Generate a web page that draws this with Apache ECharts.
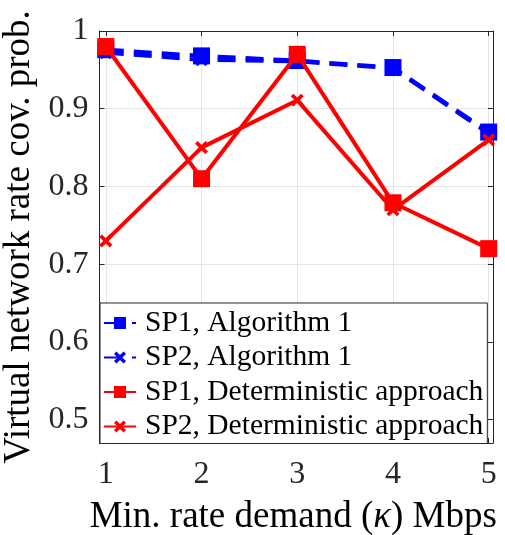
<!DOCTYPE html>
<html>
<head>
<meta charset="utf-8">
<script src="https://cdn.jsdelivr.net/npm/echarts@6/dist/echarts.min.js"></script>
<style>html,body{margin:0;padding:0;background:#fff;}#c{width:505px;height:535px;}</style>
</head>
<body>
<div id="c"></div>
<script>
const categories = [1, 2, 3, 4, 5];
const xTicks = [1, 2, 3, 4, 5];
const yTicks = [0.5, 0.6, 0.7, 0.8, 0.9, 1];
const sp1Alg = [0.976, 0.968, 0.962, 0.953, 0.870];
const sp2Alg = [0.972, 0.963, 0.961, 0.952, 0.868];
const sp1Det = [0.980, 0.810, 0.970, 0.779, 0.720];
const sp2Det = [0.730, 0.850, 0.911, 0.770, 0.860];
const seriesNames = ['SP1, Algorithm 1', 'SP2, Algorithm 1', 'SP1, Deterministic approach', 'SP2, Deterministic approach'];

const FONT = '"Liberation Serif", "Times New Roman", serif';
const AX = '#262626';
const cross = 'path://M0,2 L2,0 L5,3 L8,0 L10,2 L7,5 L10,8 L8,10 L5,7 L2,10 L0,8 L3,5 Z';
const pairs = v => categories.map((c, i) => [c, v[i]]);

const chart = echarts.init(document.getElementById('c'), null, {renderer: 'canvas'});
const xBase = {
  type: 'value', min: 0.934, max: 5.045,
  axisLine: {show: true, lineStyle: {color: AX, width: 1}},
  axisTick: {show: true, inside: true, length: 5, customValues: xTicks, lineStyle: {color: AX}},
  splitLine: {show: false}
};
const yBase = {
  type: 'value', min: 0.47, max: 1,
  axisLine: {show: true, lineStyle: {color: AX, width: 1}},
  axisTick: {show: true, inside: true, length: 5, customValues: yTicks, lineStyle: {color: AX}},
  splitLine: {show: false}
};
chart.setOption({
  animation: false,
  backgroundColor: '#fff',
  grid: {left: 99.5, right: 12, top: 31, bottom: 92, containLabel: false, outerBoundsMode: 'none'},
  xAxis: [
    Object.assign({}, xBase, {
      position: 'bottom',
      axisLabel: {show: true, customValues: xTicks, fontFamily: FONT, fontSize: 32, color: AX, margin: 16, formatter: v => String(v)},
      splitLine: {show: true, lineStyle: {color: '#e5e5e5', width: 1}},
      name: 'Min. rate demand ({k|κ}) Mbps', nameLocation: 'middle', nameGap: 56,
      nameTextStyle: {fontFamily: FONT, fontSize: 37, color: '#000', padding: [0, 6, 0, 0], rich: {k: {fontFamily: FONT, fontSize: 37, fontStyle: 'italic', color: '#000'}}}
    }),
    Object.assign({}, xBase, {position: 'top', axisLabel: {show: false}})
  ],
  yAxis: [
    Object.assign({}, yBase, {
      position: 'left',
      axisLabel: {show: true, customValues: yTicks, fontFamily: FONT, fontSize: 32, color: AX, margin: 11, formatter: v => String(+v.toFixed(1))},
      splitLine: {show: true, lineStyle: {color: '#e5e5e5', width: 1}},
      name: 'Virtual network rate cov. prob.', nameLocation: 'middle', nameGap: 52, nameRotate: 90,
      nameTextStyle: {fontFamily: FONT, fontSize: 37, color: '#000'}
    }),
    Object.assign({}, yBase, {position: 'right', axisLabel: {show: false}})
  ],
  legend: {
    orient: 'vertical', left: 100, top: 303,
    backgroundColor: '#fff', borderColor: AX, borderWidth: 1,
    padding: [5, 4, 2, 3], itemGap: 4.5, itemWidth: 32, itemHeight: 15,
    textStyle: {fontFamily: FONT, fontSize: 29.5, color: '#000', lineHeight: 24, padding: [0, 0, 0, 4]},
    data: seriesNames
  },
  series: [
    {name: seriesNames[0], type: 'line', data: pairs(sp1Alg), symbol: 'rect', symbolSize: 17,
     lineStyle: {color: '#0000ff', width: 4, type: [18, 10]}, itemStyle: {color: '#0000ff'}, z: 2},
    {name: seriesNames[1], type: 'line', data: pairs(sp2Alg), symbol: cross, symbolSize: 13,
     lineStyle: {color: '#0000ff', width: 4, type: [18, 10]}, itemStyle: {color: '#0000ff'}, z: 2},
    {name: seriesNames[2], type: 'line', data: pairs(sp1Det), symbol: 'rect', symbolSize: 17,
     lineStyle: {color: '#ff0000', width: 4}, itemStyle: {color: '#ff0000'}, z: 3},
    {name: seriesNames[3], type: 'line', data: pairs(sp2Det), symbol: cross, symbolSize: 13,
     lineStyle: {color: '#ff0000', width: 4}, itemStyle: {color: '#ff0000'}, z: 3}
  ]
});
</script>
</body>
</html>
